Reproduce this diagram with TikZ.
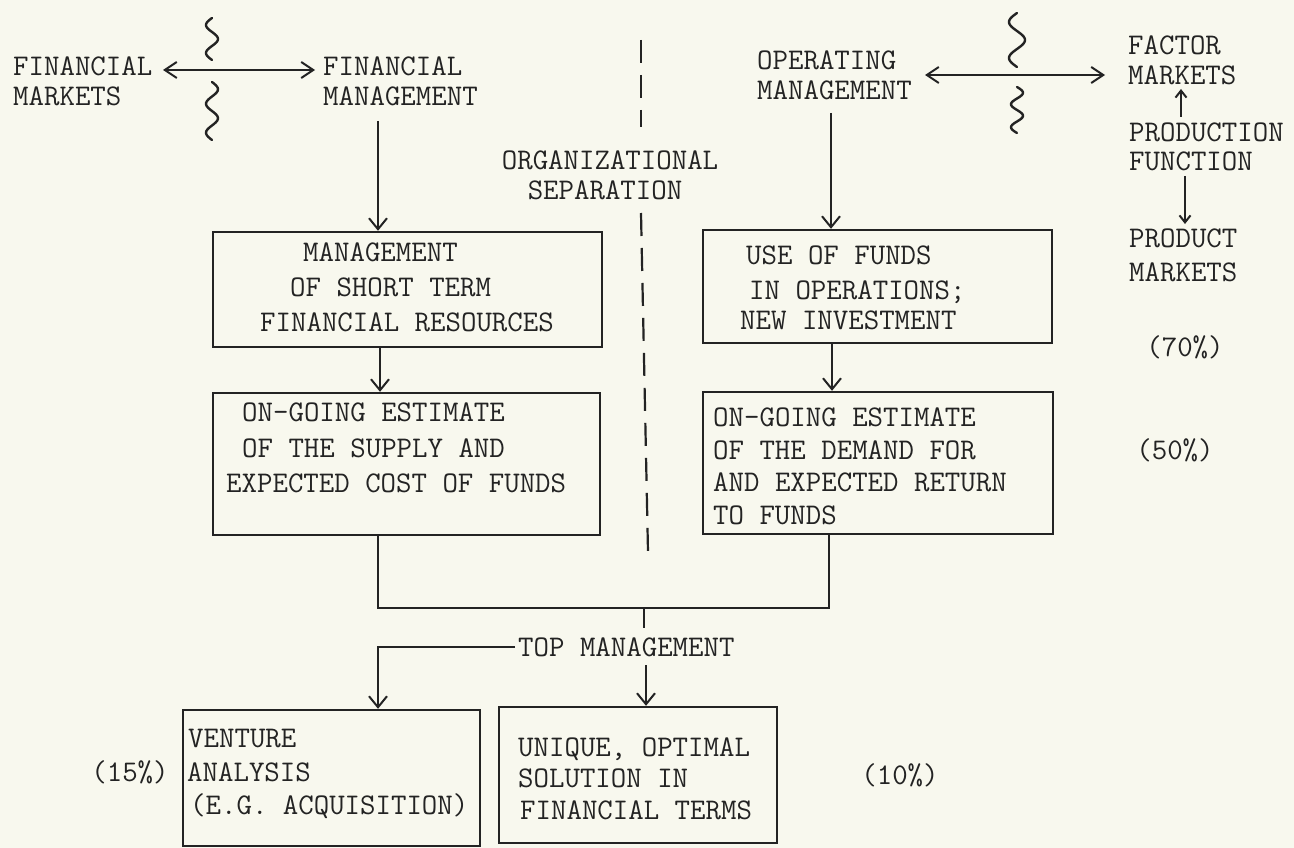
\documentclass[tikz,border=0pt]{standalone}
\usetikzlibrary{arrows.meta}
\definecolor{paper}{RGB}{248,248,238}
\definecolor{ink}{RGB}{35,35,35}
\newcommand\tyfont{\fontsize{30}{33}\selectfont\ttfamily}
\begin{document}
\begin{tikzpicture}[x=1pt,y=-1pt,
  txt/.style={inner sep=0pt, anchor=west, text height=18.3pt, text depth=0pt, font=\tyfont, text=ink},
  boxn/.style={draw=ink, line width=2.4pt, inner sep=0pt},
  arr/.style={draw=ink, line width=2pt, -{Straight Barb[length=11pt,width=18pt,line width=2pt]}},
  arrs/.style={draw=ink, line width=2pt, -{Straight Barb[length=7pt,width=11pt,line width=2pt]}},
  darr/.style={draw=ink, line width=2pt, {Straight Barb[length=12pt,width=16pt,line width=2pt]}-{Straight Barb[length=12pt,width=16pt,line width=2pt]}},
  ln/.style={draw=ink, line width=2.2pt},
  wig/.style={draw=ink, line width=2.4pt, line cap=round},
  sep/.style={draw=ink, line width=2.2pt, dash pattern=on 23pt off 12pt}
]
\fill[paper] (0,0) rectangle (1294,848);
\useasboundingbox (0,0) rectangle (1294,848);

% boxes
\node[boxn, minimum width=389pt, minimum height=115pt] (b1) at (407.5,289.5) {};
\node[boxn, minimum width=387pt, minimum height=142pt] (b2) at (406.5,464) {};
\node[boxn, minimum width=349pt, minimum height=113pt] (b3) at (877.5,286.5) {};
\node[boxn, minimum width=350pt, minimum height=142pt] (b4) at (878,463) {};
\node[boxn, minimum width=297pt, minimum height=136pt] (b5) at (331.5,778) {};
\node[boxn, minimum width=278pt, minimum height=136pt] (b6) at (638,775) {};

% top texts
\node[txt] (fm1) at (13,66) {FINANCIAL};
\node[txt] (fm2) at (13,96) {MARKETS};
\node[txt] (fg1) at (323,66) {FINANCIAL};
\node[txt] (fg2) at (323,96) {MANAGEMENT};
\node[txt] (om1) at (757,60) {OPERATING};
\node[txt] (om2) at (757,90) {MANAGEMENT};
\node[txt] (fc1) at (1128,45) {FACTOR};
\node[txt] (fc2) at (1128,75) {MARKETS};
\node[txt] (pf1) at (1129,132) {PRODUCTION};
\node[txt] (pf2) at (1129,161) {FUNCTION};
\node[txt] (pm1) at (1129,238) {PRODUCT};
\node[txt] (pm2) at (1129,272) {MARKETS};
\node[txt, anchor=center] (p70) at (1185,347) {(70\%)};
\node[txt, anchor=center] (p50) at (1175,450) {(50\%)};
\node[txt, anchor=center] (os1) at (610,160) {ORGANIZATIONAL};
\node[txt, anchor=center] (os2) at (605,190) {SEPARATION};

% box texts
\node[txt] (t11) at (303,252) {MANAGEMENT};
\node[txt] (t12) at (290,287) {OF SHORT TERM};
\node[txt] (t13) at (260,322) {FINANCIAL RESOURCES};
\node[txt] (t21) at (242,412) {ON-GOING ESTIMATE};
\node[txt] (t22) at (242,448) {OF THE SUPPLY AND};
\node[txt] (t23) at (226,483) {EXPECTED COST OF FUNDS};
\node[txt] (t31) at (746,255) {USE OF FUNDS};
\node[txt] (t32) at (749,290) {IN OPERATIONS;};
\node[txt] (t33) at (740,320) {NEW INVESTMENT};
\node[txt] (t41) at (713,417) {ON-GOING ESTIMATE};
\node[txt] (t42) at (713,450) {OF THE DEMAND FOR};
\node[txt] (t43) at (713,482) {AND EXPECTED RETURN};
\node[txt] (t44) at (713,515) {TO FUNDS};
\node[txt] (tm) at (518,647) {TOP MANAGEMENT};
\node[txt] (t51) at (188,738) {VENTURE};
\node[txt] (t52) at (187,772) {ANALYSIS};
\node[txt] (t53) at (190,805) {(E.G. ACQUISITION)};
\node[txt, anchor=center] (p15) at (130,772) {(15\%)};
\node[txt] (t61) at (518,747) {UNIQUE, OPTIMAL};
\node[txt] (t62) at (518,778) {SOLUTION IN};
\node[txt] (t63) at (520,810) {FINANCIAL TERMS};
\node[txt, anchor=center] (p10) at (900,775) {(10\%)};

% separator
\coordinate (s1) at (641,40); \coordinate (s2) at (641,127);
\coordinate (s3) at (641,213); \coordinate (s4) at (648,552);
\draw[sep] (s1) -- (s2);
\draw[sep] (s3) -- (s4);

% double arrows and squiggles
\coordinate (la) at (163,70); \coordinate (lb) at (315,70);
\draw[darr] (la) -- (lb);
\coordinate (ra) at (925,75); \coordinate (rb) at (1105,75);
\draw[darr] (ra) -- (rb);
\draw[wig] plot[domain=0:1,samples=40,smooth] ({212-6*sin(540*\x)},{18+42*\x});
\draw[wig] plot[domain=0:1,samples=40,smooth] ({212+6*sin(720*\x)},{82+58*\x});
\draw[wig] plot[domain=0:1,samples=40,smooth] ({1017-8*sin(540*\x)},{13+54*\x});
\draw[wig] plot[domain=0:1,samples=40,smooth] ({1017+6*sin(720*\x)},{87+46*\x});

% production arrows
\coordinate (ua) at (1181,117); \coordinate (ub) at (1181,89);
\draw[arrs] (ua) -- (ub);
\coordinate (da) at (1185,176); \coordinate (db) at (1185,224);
\draw[arrs] (da) -- (db);

% vertical flow
\coordinate (fgb) at (378,121);
\draw[arr] (fgb) -- (fgb |- b1.north);
\coordinate (x380) at (380,0);
\draw[arr] (b1.south -| x380) -- (b2.north -| x380);
\coordinate (omb) at (831,113);
\draw[arr] (omb) -- (omb |- b3.north);
\coordinate (x832) at (832,0);
\draw[arr] (b3.south -| x832) -- (b4.north -| x832);

% junction
\coordinate (j1) at (378,608); \coordinate (j2) at (829,608);
\coordinate (jm) at (644,608); \coordinate (jb) at (644,628);
\draw[ln] (b2.south -| j1) -- (j1) -- (j2) -- (b4.south -| j2);
\draw[ln] (jm) -- (jb);
\coordinate (tl) at (378,647);
\draw[arr] ([xshift=-3pt]tm.west) -- (tl) -- (b5.north -| tl);
\coordinate (ta) at (646,665);
\draw[arr] (ta) -- (b6.north -| ta);
\end{tikzpicture}
\end{document}
